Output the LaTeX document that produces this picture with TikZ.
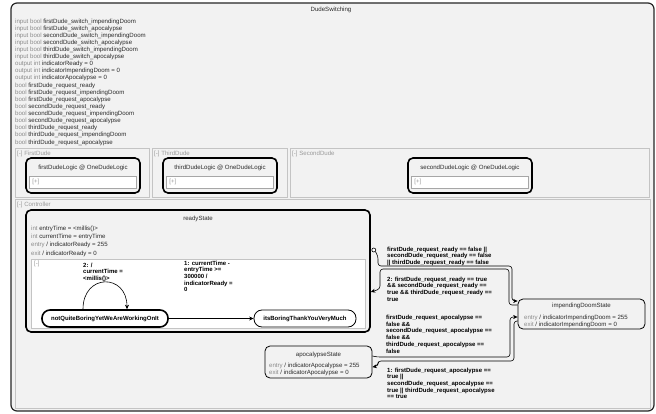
\documentclass[tikz,border=0pt]{standalone}
\usepackage{fontspec}
\setmainfont{Liberation Sans}
\usetikzlibrary{arrows.meta}
\definecolor{fillgray}{HTML}{F2F2F2}
\definecolor{linegray}{HTML}{C4C4C4}
\definecolor{kwgray}{HTML}{8A8A8A}
\definecolor{taggray}{HTML}{9A9A9A}
\definecolor{txtdark}{HTML}{2A2A2A}
\tikzset{
  plain/.style={inner sep=0pt, font=\fontsize{6.1}{7.5}\selectfont, text=txtdark},
  tag/.style={plain, anchor=west, text=taggray},
  guard/.style={inner sep=0pt, anchor=north west, align=left, font=\bfseries\fontsize{6}{6.7}\selectfont},
  outer/.style={draw=black!85, line width=1.2pt, rounded corners=6pt, fill=fillgray},
  region/.style={draw=linegray, line width=0.6pt},
  instance/.style={draw, line width=1.6pt, rounded corners=5pt, fill=fillgray},
  state/.style={draw, line width=0.8pt, rounded corners=5pt, fill=fillgray},
  leaf/.style={draw, line width=0.8pt, rounded corners=8pt, fill=white, inner sep=0pt, font=\bfseries\fontsize{6}{7}\selectfont},
  trans/.style={-{Stealth[length=4.5pt,width=4pt]}, line width=0.6pt, rounded corners=3pt}
}
\begin{document}
\begin{tikzpicture}[x=1pt,y=-1pt]
\useasboundingbox (0,0) rectangle (656,414);

\draw[outer] (11,3) rectangle (654,411);
\node[plain] (top) at (331,10) {DudeSwitching};

\foreach [count=\i] \k/\v in {input bool/firstDude\_switch\_impendingDoom,
  input bool/firstDude\_switch\_apocalypse, input bool/secondDude\_switch\_impendingDoom,
  input bool/secondDude\_switch\_apocalypse, input bool/thirdDude\_switch\_impendingDoom,
  input bool/thirdDude\_switch\_apocalypse, output int/indicatorReady = 0,
  output int/indicatorImpendingDoom = 0, output int/indicatorApocalypse = 0,
  bool/firstDude\_request\_ready, bool/firstDude\_request\_impendingDoom,
  bool/firstDude\_request\_apocalypse, bool/secondDude\_request\_ready,
  bool/secondDude\_request\_impendingDoom, bool/secondDude\_request\_apocalypse,
  bool/thirdDude\_request\_ready, bool/thirdDude\_request\_impendingDoom,
  bool/thirdDude\_request\_apocalypse}
  \node[plain, anchor=base west] (var\i) at (15,15.9+7.12*\i) {\textcolor{kwgray}{\k} \v};

\draw[region] (15,148) rectangle (149,197);
\draw[region] (152,148) rectangle (287,197);
\draw[region] (290,148) rectangle (649,197);
\node[tag] (firsttag) at (17,154) {[-] FirstDude};
\node[tag] (thirdtag) at (154,154) {[-] ThirdDude};
\node[tag] (secondtag) at (292,154) {[-] SecondDude};

\foreach \n/\x/\w in {first/83/114, third/220/114, second/470/124} {
  \node[instance, minimum width=\w pt, minimum height=35pt] (\n logic) at (\x,175.5) {};
  \node[plain] (\n name) at (\x,168) {\n DudeLogic @ OneDudeLogic};
  \draw[region, draw=black!35, fill=white] ([xshift=4pt,yshift=-0.5pt]\n logic.west |- 0,176) rectangle ([xshift=-5pt]\n logic.east |- 0,188);
  \node[tag] (\n plus) at ([xshift=7pt]\n logic.west |- 0,182) {[+]};
}

\draw[region] (15,199) rectangle (650,408);
\node[tag] (ctrltag) at (17,205) {[-] Controller};

\node[instance, minimum width=344pt, minimum height=122pt] (ready) at (198,271) {};
\node[plain] (readyname) at (198,219) {readyState};
\node[plain, anchor=base west] (readyvar1) at (31,231) {\textcolor{kwgray}{int} entryTime = <millis()>};
\node[plain, anchor=base west] (readyvar2) at (31,239) {\textcolor{kwgray}{int} currentTime = entryTime};
\node[plain, anchor=base west] (readyentry) at (31,247) {\textcolor{kwgray}{entry} / indicatorReady = 255};
\node[plain, anchor=base west] (readyexit) at (31,255) {\textcolor{kwgray}{exit} / indicatorReady = 0};
\draw[region, fill=white] (31,259) rectangle (365,328);
\node[tag] (readytag) at (34,264) {[-]};

\node[leaf, line width=1.6pt, minimum width=126pt, minimum height=17pt] (busy) at (105,318.5) {notQuiteBoringYetWeAreWorkingOnIt};
\node[leaf, minimum width=102pt, minimum height=17pt] (bored) at (305,318.5) {itsBoringThankYouVeryMuch};

\draw[trans] ([xshift=-22pt]busy.north) .. controls +(0,36pt) and +(0,36pt) .. ([xshift=22pt]busy.north);
\node[guard] (looplabel) at (83,262.6) {2: /\\currentTime =\\<millis()>};
\draw[trans] (busy) -- (bored);
\node[guard] (boredlabel) at (184,260.6) {1: currentTime -\\entryTime >=\\300000 /\\indicatorReady =\\0};

\node[state, minimum width=127pt, minimum height=30pt] (doom) at (581.5,314) {};
\node[plain] (doomname) at (581.5,306) {impendingDoomState};
\node[plain, anchor=base west] (doomentry) at (524,319) {\textcolor{kwgray}{entry} / indicatorImpendingDoom = 255};
\node[plain, anchor=base west] (doomexit) at (524,326) {\textcolor{kwgray}{exit} / indicatorImpendingDoom = 0};

\node[state, minimum width=107pt, minimum height=32pt] (apoc) at (318.5,362) {};
\node[plain] (apocname) at (318.5,355) {apocalypseState};
\node[plain, anchor=base west] (apocentry) at (269,367) {\textcolor{kwgray}{entry} / indicatorApocalypse = 255};
\node[plain, anchor=base west] (apocexit) at (269,374) {\textcolor{kwgray}{exit} / indicatorApocalypse = 0};

\node[draw, circle, inner sep=0pt, minimum size=4pt, fill=white, line width=0.6pt] (readyout) at ([xshift=3pt,yshift=21pt]ready.east) {};
\draw[trans] (readyout.south east) -- (378,256) -- (378,266) -- (512,266) -- (512,301) -- ([yshift=13pt]doom.west);
\node[guard] (notready) at (387,246.6) {firstDude\_request\_ready == false ||\\secondDude\_request\_ready == false\\|| thirdDude\_request\_ready == false};
\draw[trans] ([yshift=9pt]doom.west) -- (509,305) -- (509,269) -- (380,269) -- (380,289) -- ([yshift=-21pt]ready.east);
\node[guard] (allready) at (387,276.6) {2: firstDude\_request\_ready == true\\\&\& secondDude\_request\_ready ==\\true \&\& thirdDude\_request\_ready ==\\true};

\draw[trans] ([yshift=6pt]apoc.east) -- (377,357) -- (510,357) -- (510,317) -- ([yshift=-3pt]doom.west);
\node[guard] (calm) at (386,315) {firstDude\_request\_apocalypse ==\\false \&\&\\secondDude\_request\_apocalypse ==\\false \&\&\\thirdDude\_request\_apocalypse ==\\false};
\draw[trans] ([yshift=-7pt]doom.west) -- (514,321) -- (514,361) -- (378,361) -- (378,366) -- ([yshift=-5pt]apoc.east);
\node[guard] (doomsday) at (387,367.6) {1: firstDude\_request\_apocalypse ==\\true ||\\secondDude\_request\_apocalypse ==\\true || thirdDude\_request\_apocalypse\\== true};
\end{tikzpicture}
\end{document}
